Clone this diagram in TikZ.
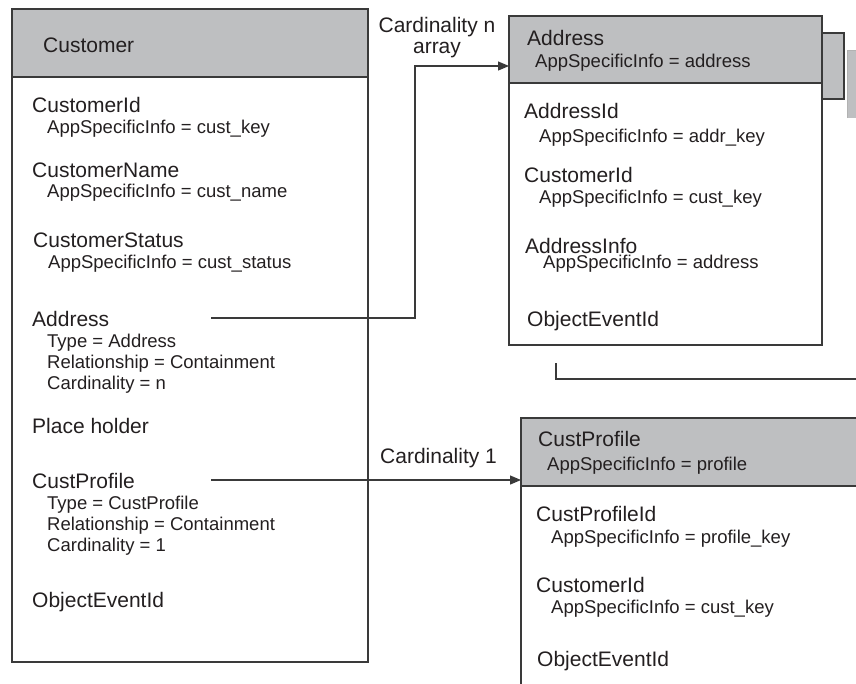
\documentclass[tikz,border=0pt]{standalone}
\usepackage{fontspec}
\setmainfont{Liberation Sans}
\usetikzlibrary{arrows.meta}
\definecolor{hdr}{HTML}{BEBFC1}
\definecolor{ink}{HTML}{231F20}
\definecolor{edge}{HTML}{3A3A3A}
\begin{document}
\begin{tikzpicture}[x=1pt,y=-1pt,
 box/.style={draw=edge,line width=1.2pt},
 hdrbox/.style={box,fill=hdr},
 nm/.style={anchor=base west,inner sep=0pt,text=ink,font=\fontsize{21}{25}\selectfont},
 att/.style={anchor=base west,inner sep=0pt,text=ink,font=\fontsize{18.5}{22}\selectfont},
 conn/.style={draw=edge,line width=1.2pt},
 arr/.style={conn,-{Triangle[length=11pt,width=9pt]}}]
\useasboundingbox (0,0) rectangle (856,683);
\clip (0,0) rectangle (856,683);
% Customer box
\draw[hdrbox] (12,9) rectangle (368,77);
\draw[box] (12,77) rectangle (368,662);
\node[nm] (custT) at (43,52) {Customer};
\node[nm] (cId) at (32,112) {CustomerId};
\node[att] (cIdA) at (47,133) {AppSpecificInfo = cust\_key};
\node[nm] (cName) at (32,177) {CustomerName};
\node[att] (cNameA) at (47,197) {AppSpecificInfo = cust\_name};
\node[nm] (cStat) at (33,247) {CustomerStatus};
\node[att] (cStatA) at (48,268) {AppSpecificInfo = cust\_status};
\node[nm] (cAddr) at (32,326) {Address};
\node[att] (cAddrT) at (47,347) {Type = Address};
\node[att] (cAddrR) at (47,368) {Relationship = Containment};
\node[att] (cAddrC) at (47,389) {Cardinality = n};
\node[nm] (cPlace) at (32,433) {Place holder};
\node[nm] (cProf) at (32,488) {CustProfile};
\node[att] (cProfT) at (47,509) {Type = CustProfile};
\node[att] (cProfR) at (47,530) {Relationship = Containment};
\node[att] (cProfC) at (47,551) {Cardinality = 1};
\node[nm] (cObj) at (32,607) {ObjectEventId};
% shadow boxes behind Address
\fill[hdr] (847,50) rectangle (870,118);
\draw[gray!60,line width=1pt] (847,118) -- (847,50) -- (870,50);
\draw[hdrbox] (822,33) rectangle (844,99);
% Address box
\draw[hdrbox] (509,16) rectangle (822,83);
\draw[box] (509,83) rectangle (822,345);
\node[nm] (aT) at (527,45) {Address};
\node[att] (aTA) at (535,67) {AppSpecificInfo = address};
\node[nm] (aId) at (524,118) {AddressId};
\node[att] (aIdA) at (539,142) {AppSpecificInfo = addr\_key};
\node[nm] (aCId) at (524,182) {CustomerId};
\node[att] (aCIdA) at (539,203) {AppSpecificInfo = cust\_key};
\node[nm] (aInfo) at (525,253) {AddressInfo};
\node[att] (aInfoA) at (543,268) {AppSpecificInfo = address};
\node[nm] (aObj) at (527,326) {ObjectEventId};
% line under Address
\coordinate (uA) at (556,363);
\coordinate (uB) at (556,379);
\coordinate (uC) at (870,379);
\draw[conn] (uA) -- (uB) -- (uC);
% CustProfile box
\draw[hdrbox] (521,418) rectangle (870,486);
\draw[box] (521,486) rectangle (870,700);
\node[nm] (pT) at (538,446) {CustProfile};
\node[att] (pTA) at (547,470) {AppSpecificInfo = profile};
\node[nm] (pId) at (536,521) {CustProfileId};
\node[att] (pIdA) at (551,543) {AppSpecificInfo = profile\_key};
\node[nm] (pCId) at (536,592) {CustomerId};
\node[att] (pCIdA) at (551,613) {AppSpecificInfo = cust\_key};
\node[nm] (pObj) at (537,666) {ObjectEventId};
% connectors
\coordinate (addrS) at (211,318);
\coordinate (addrK) at (415,318);
\coordinate (addrE) at (509,66);
\draw[arr] (addrS) -- (addrK) |- (addrE);
\coordinate (profS) at (211,480);
\coordinate (profE) at (521,480);
\draw[arr] (profS) -- (profE);
\node[nm,anchor=base] (cardN) at (437,32) {Cardinality n};
\node[nm,anchor=base] (cardArr) at (437,53) {array};
\node[nm] (card1) at (380,463) {Cardinality 1};
\end{tikzpicture}
\end{document}
